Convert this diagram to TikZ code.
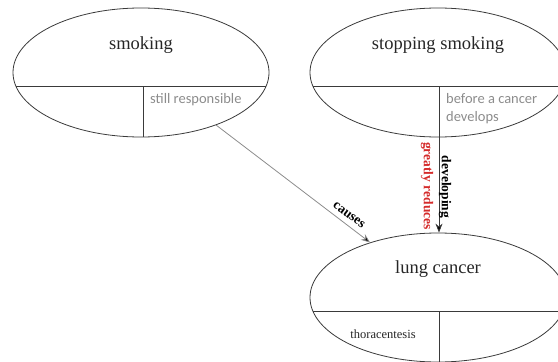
\documentclass[tikz,border=0pt]{standalone}
\usepackage{fontspec}
\setmainfont{Liberation Serif}
\newfontfamily\calib{Carlito}
\usetikzlibrary{arrows.meta,shapes.geometric,calc}
\definecolor{edge}{HTML}{3A3A3A}
\definecolor{soft}{HTML}{8C8C8C}
\definecolor{redlbl}{HTML}{D42A2A}
\tikzset{
  concept/.style={draw=edge,line width=0.8pt,ellipse,minimum width=256pt,minimum height=129pt,inner sep=0pt},
  divider/.style={draw=edge,line width=0.8pt},
  title/.style={font=\fontsize{18.5}{20}\selectfont,text=black!85,inner sep=0pt},
  note/.style={font=\calib\fontsize{14.5}{18}\selectfont,text=soft,inner sep=0pt,align=left},
  small/.style={font=\fontsize{12.5}{14}\selectfont,text=black!85,inner sep=0pt},
  link/.style={line width=0.8pt,-{Stealth[length=9pt,width=7pt,fill=black]}},
  lbl/.style={font=\bfseries\fontsize{13.5}{15}\selectfont,inner sep=0pt}
}
\begin{document}
\begin{tikzpicture}[x=1pt,y=-1pt]
\useasboundingbox (0,0) rectangle (558,362);
\clip (0,0) rectangle (558,362);
% concepts
\node[concept] (s) at (141,72.5) {};
\node[concept] (ss) at (438,72.5) {};
\node[concept] (lc) at (438,297.5) {};
% dividers
\draw[divider] (15.8,86) coordinate (s1) -- (266.2,86) coordinate (s2);
\draw[divider] (143,86) coordinate (s3) -- (143,137) coordinate (s4);
\draw[divider] (312.8,86) coordinate (t1) -- (563.2,86) coordinate (t2);
\draw[divider] (439,86) coordinate (t3) -- (439,137) coordinate (t4);
\draw[divider] (312.8,311) coordinate (l1) -- (563.2,311) coordinate (l2);
\draw[divider] (439,311) coordinate (l3) -- (439,362) coordinate (l4);
% texts
\node[title] (st) at (141,45) {smoking};
\node[title] (sst) at (438,45) {stopping smoking};
\node[title] (lct) at (438,269) {lung cancer};
\node[note,anchor=west] (sn) at (150,100) {still responsible};
\node[note,anchor=north west] (ssn) at (446,93) {before a cancer\\develops};
\node[small] (th) at (383,334) {thoracentesis};
% connectors
\draw[link,draw=soft] (s.-35) -- (lc.141.3);
\draw[link,draw=edge] ([xshift=1pt]ss.south) -- ([xshift=1pt]lc.north);
\node[lbl,rotate=-37] (c) at (349,215) {causes};
\node[lbl,rotate=-90] (d) at (445,187) {developing};
\node[lbl,rotate=-90,text=redlbl] (g) at (427,186) {greatly reduces};
\end{tikzpicture}
\end{document}
